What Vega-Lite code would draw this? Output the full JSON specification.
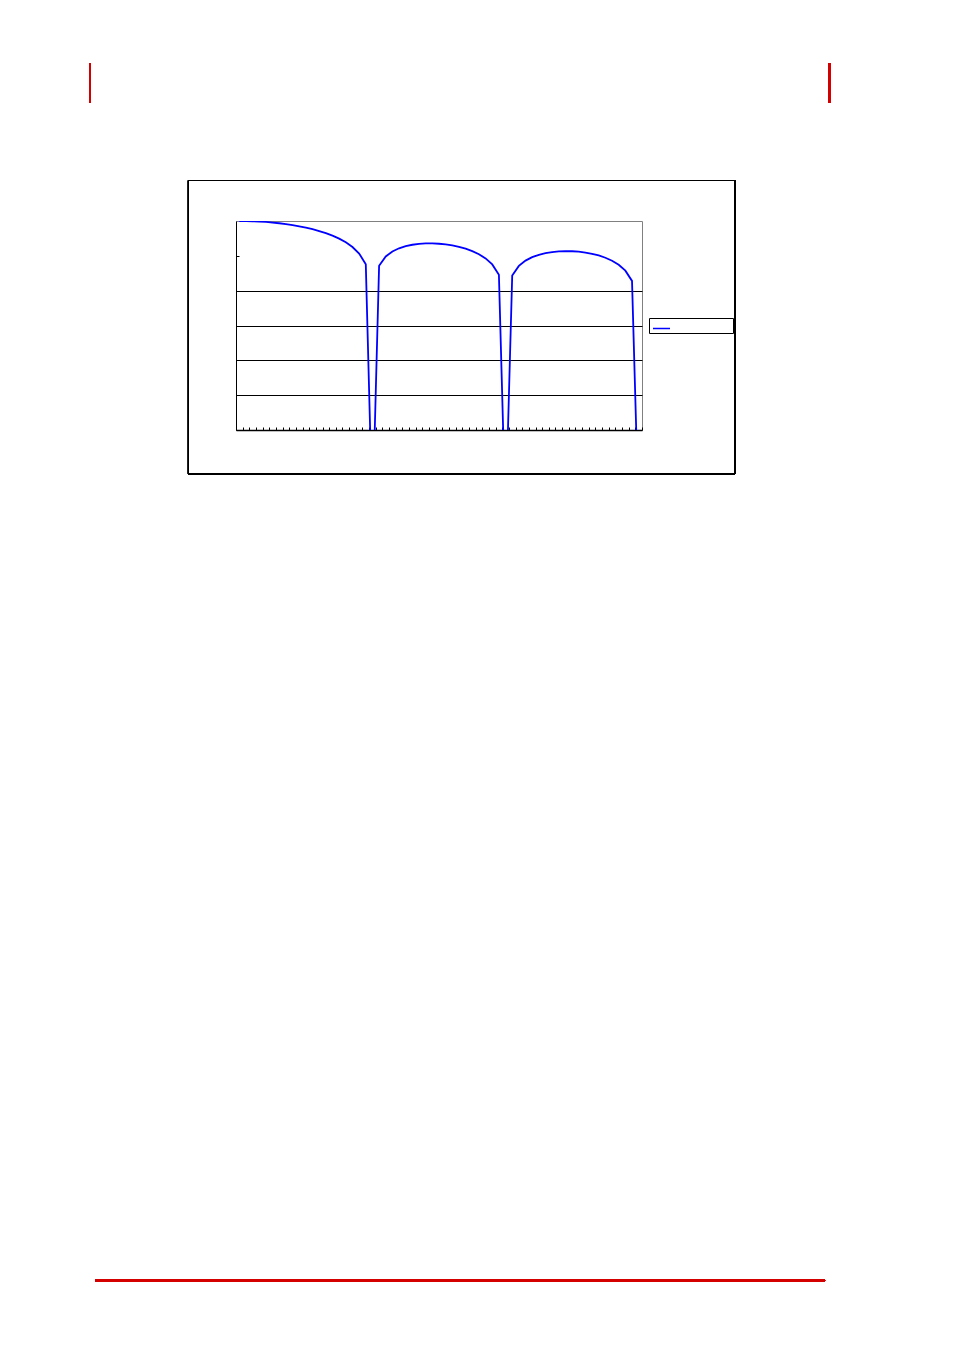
{
  "$schema": "https://vega.github.io/schema/vega-lite/v6.json",
  "width": 406,
  "height": 209,
  "autosize": {"type": "none"},
  "padding": {"left": 236, "top": 221, "right": 312, "bottom": 922},
  "background": "white",
  "data": {
    "values": [
      {"n": 0, "db": 0, "series": "Response"},
      {"n": 1, "db": -0.03, "series": "Response"},
      {"n": 2, "db": -0.14, "series": "Response"},
      {"n": 3, "db": -0.31, "series": "Response"},
      {"n": 4, "db": -0.56, "series": "Response"},
      {"n": 5, "db": -0.88, "series": "Response"},
      {"n": 6, "db": -1.29, "series": "Response"},
      {"n": 7, "db": -1.77, "series": "Response"},
      {"n": 8, "db": -2.35, "series": "Response"},
      {"n": 9, "db": -3.02, "series": "Response"},
      {"n": 10, "db": -3.8, "series": "Response"},
      {"n": 11, "db": -4.71, "series": "Response"},
      {"n": 12, "db": -5.76, "series": "Response"},
      {"n": 13, "db": -6.99, "series": "Response"},
      {"n": 14, "db": -8.43, "series": "Response"},
      {"n": 15, "db": -10.14, "series": "Response"},
      {"n": 16, "db": -12.24, "series": "Response"},
      {"n": 17, "db": -14.93, "series": "Response"},
      {"n": 18, "db": -18.65, "series": "Response"},
      {"n": 19, "db": -24.84, "series": "Response"},
      {"n": 20, "db": -170, "series": "Response"},
      {"n": 21, "db": -25.69, "series": "Response"},
      {"n": 22, "db": -20.34, "series": "Response"},
      {"n": 23, "db": -17.48, "series": "Response"},
      {"n": 24, "db": -15.66, "series": "Response"},
      {"n": 25, "db": -14.44, "series": "Response"},
      {"n": 26, "db": -13.64, "series": "Response"},
      {"n": 27, "db": -13.14, "series": "Response"},
      {"n": 28, "db": -12.9, "series": "Response"},
      {"n": 29, "db": -12.88, "series": "Response"},
      {"n": 30, "db": -13.06, "series": "Response"},
      {"n": 31, "db": -13.44, "series": "Response"},
      {"n": 32, "db": -14.03, "series": "Response"},
      {"n": 33, "db": -14.84, "series": "Response"},
      {"n": 34, "db": -15.9, "series": "Response"},
      {"n": 35, "db": -17.28, "series": "Response"},
      {"n": 36, "db": -19.07, "series": "Response"},
      {"n": 37, "db": -21.48, "series": "Response"},
      {"n": 38, "db": -24.95, "series": "Response"},
      {"n": 39, "db": -30.9, "series": "Response"},
      {"n": 40, "db": -170, "series": "Response"},
      {"n": 41, "db": -31.32, "series": "Response"},
      {"n": 42, "db": -25.79, "series": "Response"},
      {"n": 43, "db": -22.75, "series": "Response"},
      {"n": 44, "db": -20.76, "series": "Response"},
      {"n": 45, "db": -19.4, "series": "Response"},
      {"n": 46, "db": -18.45, "series": "Response"},
      {"n": 47, "db": -17.82, "series": "Response"},
      {"n": 48, "db": -17.44, "series": "Response"},
      {"n": 49, "db": -17.3, "series": "Response"},
      {"n": 50, "db": -17.37, "series": "Response"},
      {"n": 51, "db": -17.64, "series": "Response"},
      {"n": 52, "db": -18.12, "series": "Response"},
      {"n": 53, "db": -18.83, "series": "Response"},
      {"n": 54, "db": -19.8, "series": "Response"},
      {"n": 55, "db": -21.09, "series": "Response"},
      {"n": 56, "db": -22.8, "series": "Response"},
      {"n": 57, "db": -25.12, "series": "Response"},
      {"n": 58, "db": -28.51, "series": "Response"},
      {"n": 59, "db": -34.39, "series": "Response"},
      {"n": 60, "db": -170, "series": "Response"}
    ]
  },
  "encoding": {
    "x": {
      "type": "quantitative",
      "scale": {"domain": [-0.5, 60.5], "nice": false, "zero": false},
      "axis": {
        "title": null,
        "labels": false,
        "grid": false,
        "tickCount": 200,
        "values": [-0.5, 0.5, 1.5, 2.5, 3.5, 4.5, 5.5, 6.5, 7.5, 8.5, 9.5, 10.5, 11.5, 12.5, 13.5, 14.5, 15.5, 16.5, 17.5, 18.5, 19.5, 20.5, 21.5, 22.5, 23.5, 24.5, 25.5, 26.5, 27.5, 28.5, 29.5, 30.5, 31.5, 32.5, 33.5, 34.5, 35.5, 36.5, 37.5, 38.5, 39.5, 40.5, 41.5, 42.5, 43.5, 44.5, 45.5, 46.5, 47.5, 48.5, 49.5, 50.5, 51.5, 52.5, 53.5, 54.5, 55.5, 56.5, 57.5, 58.5, 59.5, 60.5],
        "tickSize": -3,
        "tickColor": "black",
        "domainColor": "black",
        "tickWidth": 1,
        "domainWidth": 1.5
      }
    },
    "y": {
      "type": "quantitative",
      "scale": {"domain": [-120, 0], "nice": false, "zero": false},
      "axis": {
        "title": null,
        "labels": false,
        "tickCount": 20,
        "values": [-100, -80, -60, -40, -20],
        "grid": true,
        "gridColor": "black",
        "gridWidth": 1,
        "gridOpacity": {"condition": {"test": "datum.value == -20", "value": 0}, "value": 1},
        "tickSize": -3,
        "tickColor": "black",
        "domainColor": "black",
        "domainWidth": 1
      }
    }
  },
  "layer": [
    {
      "mark": {"type": "line", "clip": true, "color": "#0000ff", "strokeWidth": 1.8},
      "encoding": {
        "x": {"field": "n"},
        "y": {"field": "db"},
        "color": {
          "field": "series",
          "type": "nominal",
          "scale": {"range": ["#0000ff"]},
          "legend": {
            "title": null,
            "orient": "none",
            "legendX": 413,
            "legendY": 97,
            "symbolType": "stroke",
            "symbolSize": 289,
            "symbolStrokeWidth": 1.5,
            "symbolOffset": 2,
            "labelExpr": "''",
            "labelFontSize": 6,
            "labelOffset": 61,
            "padding": 1,
            "strokeColor": "black",
            "fillColor": "white"
          }
        }
      }
    },
    {
      "mark": {"type": "rect", "clip": false, "fill": null, "filled": false, "stroke": "black", "strokeWidth": 1},
      "encoding": {
        "x": {"datum": -7.64},
        "x2": {"datum": 74.47},
        "y": {"datum": 23.25},
        "y2": {"datum": -145.26}
      }
    },
    {
      "mark": {"type": "rule", "clip": false, "color": "#d40000", "strokeWidth": 2},
      "encoding": {
        "x": {"datum": -22.44},
        "y": {"datum": 90.72},
        "y2": {"datum": 67.75}
      }
    },
    {
      "mark": {"type": "rule", "clip": false, "color": "#d40000", "strokeWidth": 2},
      "encoding": {
        "x": {"datum": 88.67},
        "y": {"datum": 90.72},
        "y2": {"datum": 67.75}
      }
    },
    {
      "mark": {"type": "rule", "clip": false, "color": "#d40000", "strokeWidth": 2},
      "encoding": {
        "x": {"datum": -21.68},
        "x2": {"datum": 88.0},
        "y": {"datum": -608.5}
      }
    }
  ],
  "config": {
    "view": {"stroke": "#808080", "strokeWidth": 1}
  }
}
